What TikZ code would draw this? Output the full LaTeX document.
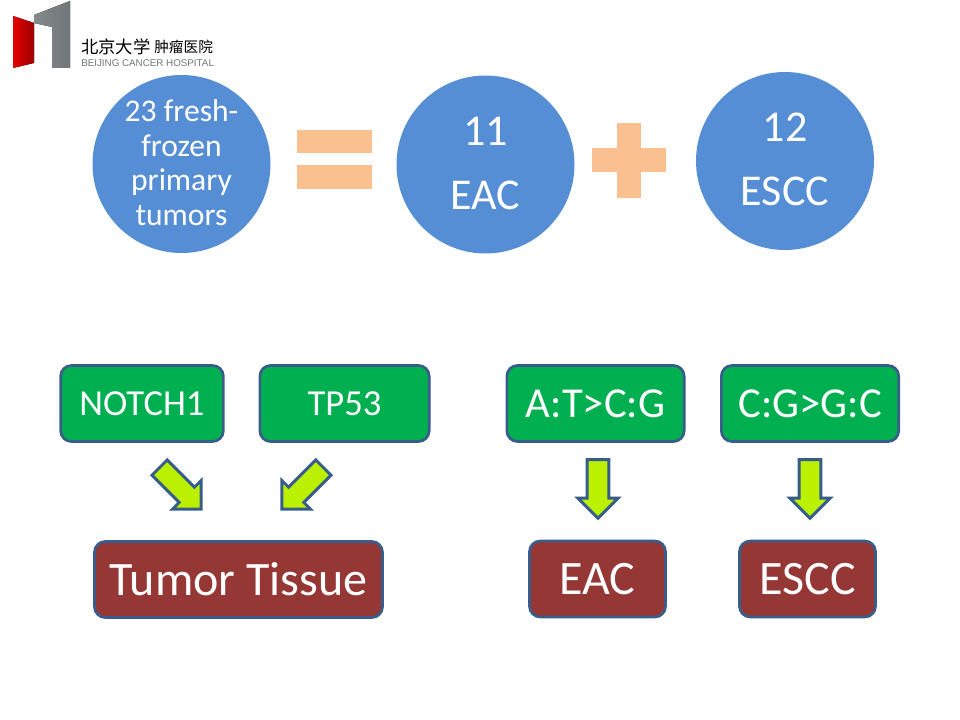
\documentclass[tikz,border=0pt]{standalone}
\usepackage{fontspec}
\setmainfont{Carlito}
\newfontfamily\logosans{Liberation Sans}
\newfontfamily\logocjk{Noto Sans CJK SC}
\usetikzlibrary{shapes.arrows}
\definecolor{circblue}{HTML}{558ED5}
\definecolor{signorange}{HTML}{FAC090}
\definecolor{boxgreen}{HTML}{00B050}
\definecolor{boxred}{HTML}{953735}
\definecolor{boxline}{HTML}{385D8A}
\definecolor{arrowlime}{HTML}{BBF000}
\definecolor{logogray}{HTML}{6F7578}
\newcommand{\circtext}[2]{\makebox[0pt]{\raisebox{#1}[0pt][0pt]{\begin{tabular}{@{}c@{}}#2\end{tabular}}}}

\begin{document}
\begin{tikzpicture}[x=0.75pt,y=-0.75pt]
		\tikzstyle{sample}=[circle,fill=circblue,text=white,minimum size=133.5pt,inner sep=0pt]
		\tikzstyle{sign}=[fill=signorange,draw=none]
		\tikzstyle{genebox}=[draw=boxline,line width=2pt,rounded corners=8pt,fill=boxgreen,text=white,minimum height=57pt,inner sep=0pt]
		\tikzstyle{tissuebox}=[genebox,fill=boxred]
		\tikzstyle{blockarrow}=[single arrow,draw=boxline,line width=2.2pt,fill=arrowlime,minimum height=44pt,minimum width=28pt,single arrow head extend=7pt,inner xsep=0pt,inner ysep=7pt]

		\useasboundingbox (0,0) rectangle (960,720);

		% logo
		\fill[left color=red!90!black,right color=red!60!black] (13,16) -- (34,23) -- (34,63) -- (13,68) -- cycle;
		\fill[left color=logogray!85,right color=logogray] (34,15) -- (70,1) -- (70,68) -- (52,68) -- (52,27) -- (34,23) -- cycle;
		\node[inner sep=0pt,anchor=west] (logocn) at (81,47) {\logocjk\fontsize{13pt}{14pt}\selectfont 北京大学};
		\node[inner sep=0pt,anchor=west] (logohosp) at (154,47) {\logocjk\fontsize{11pt}{12pt}\selectfont 肿瘤医院};
		\node[inner sep=0pt,anchor=west,text=logogray] (logoen) at (81,63) {\logosans\fontsize{7.35pt}{8pt}\selectfont BEIJING CANCER HOSPITAL};

		% circles and signs
		\node[sample,font=\fontsize{23.7pt}{26pt}\selectfont] (fresh) at (181.5,164) {\circtext{-8.25pt}{23 fresh-\\frozen\\primary\\tumors}};
		\node[sample,font=\fontsize{33pt}{48pt}\selectfont] (eac) at (485.5,164.5) {\circtext{-6pt}{11\\EAC}};
		\node[sample,font=\fontsize{33pt}{48pt}\selectfont] (escc) at (785,161) {\circtext{-6pt}{12\\ESCC}};

		\fill[sign] (297,130) rectangle (372,153);
		\fill[sign] (297,165) rectangle (372,189);
		\fill[sign] (617,123) rectangle (641,198);
		\fill[sign] (592,148) rectangle (666,172);

		% gene boxes
		\node[genebox,minimum width=122pt,font=\fontsize{27.5pt}{30pt}\selectfont] (notch) at (142,403.5) {NOTCH1};
		\node[genebox,minimum width=127pt,font=\fontsize{27.5pt}{30pt}\selectfont] (tp53) at (344.5,403.5) {TP53};
		\node[genebox,minimum width=133pt,font=\fontsize{32pt}{36pt}\selectfont] (atcg) at (595.5,403.5) {A:T>C:G};
		\node[genebox,minimum width=133pt,font=\fontsize{32pt}{36pt}\selectfont] (cggc) at (810,403.5) {C:G>G:C};

		% tissue boxes
		\node[tissuebox,minimum width=216pt,font=\fontsize{36pt}{40pt}\selectfont] (tumor) at (238.5,579.5) {Tumor Tissue};
		\node[tissuebox,minimum width=102pt,font=\fontsize{36pt}{40pt}\selectfont] (eacbox) at (597.5,579) {EAC};
		\node[tissuebox,minimum width=102pt,font=\fontsize{36pt}{40pt}\selectfont] (esccbox) at (807.5,579) {ESCC};

		% block arrows
		\node[blockarrow,rotate=-45] (arrowa) at (176.5,484.5) {};
		\node[blockarrow,rotate=225] (arrowb) at (306.5,484.5) {};
		\node[blockarrow,rotate=-90] (arrowc) at (598,483.5) {};
		\node[blockarrow,rotate=-90] (arrowd) at (810,483.5) {};
\end{tikzpicture}
\end{document}
